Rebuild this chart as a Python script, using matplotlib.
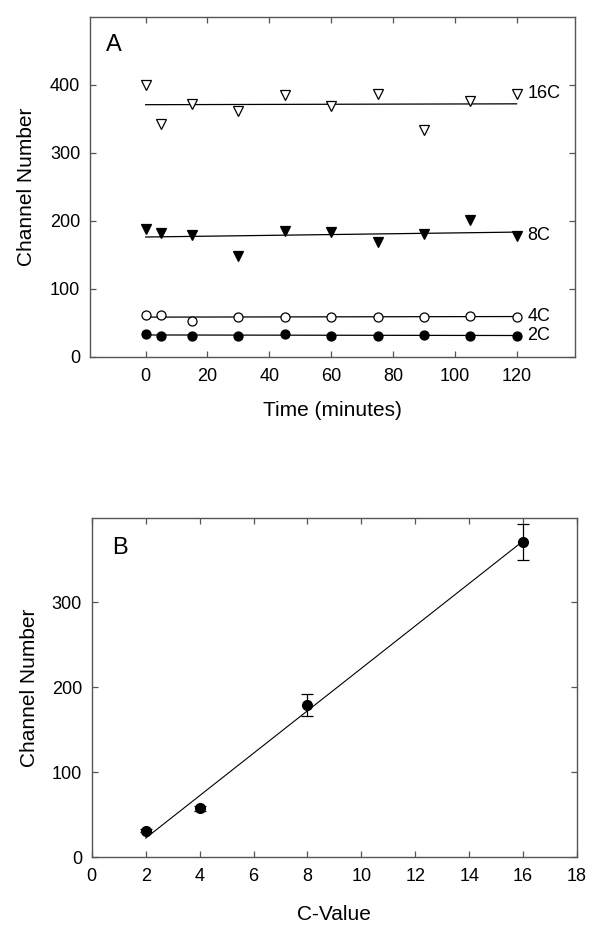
import numpy as np
import matplotlib
matplotlib.use("Agg")
import matplotlib.pyplot as plt

plt.rcParams['font.family'] = ['Liberation Sans', 'DejaVu Sans']

# Panel A : channel number over time for each ploidy class
temps = [0, 5, 15, 30, 45, 60, 75, 90, 105, 120]
c16 = [400, 342, 372, 362, 385, 369, 387, 333, 376, 387]
c8 = [188, 182, 179, 148, 185, 183, 168, 181, 201, 178]
c4 = [61, 61, 52, 58, 59, 58, 58, 59, 60, 59]
c2 = [33, 31, 31, 31, 34, 30, 31, 32, 31, 31]
noms = ["16C", "8C", "4C", "2C"]

# Panel B : mean channel number vs C-value
c_valeurs = [2, 4, 8, 16]
moyennes = [31.3, 57.6, 179.5, 371.3]
erreurs = [2, 3, 13, 21]


def reglage_axes(ax):
    for s in ax.spines.values():
        s.set_color('#555555')
        s.set_linewidth(1.0)
    ax.tick_params(direction='in', top=True, right=True, length=4, width=0.9,
                   color='#555555', labelsize=13)
    ax.tick_params(axis='x', pad=8)
    ax.tick_params(axis='y', pad=7)


fig = plt.figure(figsize=(6, 9.36), dpi=100)

# ---- A ----
ax1 = fig.add_axes([0.15, 0.619, 0.809, 0.363])
series = [c16, c8, c4, c2]
styles = [('v', 'white'), ('v', 'black'), ('o', 'white'), ('o', 'black')]
t = np.array(temps)
for vals, (m, fc), nom in zip(series, styles, noms):
    a, b = np.polyfit(t, vals, 1)
    ax1.plot([0, 120], [b, b + a * 120], color='black', lw=0.9, zorder=2)
    ax1.plot(temps, vals, linestyle='none', marker=m, markersize=6.5,
             markerfacecolor=fc, markeredgecolor='black', markeredgewidth=0.9, zorder=3)
    ax1.text(123.5, vals[-1], nom, ha='left', va='center', fontsize=13)

ax1.set_xlim(-18, 139)
ax1.set_ylim(0, 500)
ax1.set_xticks(range(0, 121, 20))
ax1.set_yticks(range(0, 401, 100))
ax1.set_xlabel("Time (minutes)", fontsize=15)
ax1.set_ylabel("Channel Number", fontsize=15)
ax1.xaxis.set_label_coords(0.5, -0.131)
ax1.yaxis.set_label_coords(-0.111, 0.5)
ax1.text(0.05, 0.917, "A", transform=ax1.transAxes, ha='center', va='center', fontsize=17)
reglage_axes(ax1)

# ---- B ----
ax2 = fig.add_axes([0.153, 0.0841, 0.8087, 0.3622])
pente, origine = np.polyfit(c_valeurs, moyennes, 1)
ax2.plot([c_valeurs[0], c_valeurs[-1]],
         [origine + pente * c_valeurs[0], origine + pente * c_valeurs[-1]],
         color='black', lw=0.8, zorder=2)
ax2.errorbar(c_valeurs, moyennes, yerr=erreurs, fmt='o', color='black',
             markersize=7, capsize=4, elinewidth=0.9, capthick=0.9, zorder=3)
ax2.set_xlim(0, 18)
ax2.set_ylim(0, 399)
ax2.set_xticks(range(0, 19, 2))
ax2.set_yticks(range(0, 301, 100))
ax2.set_xlabel("C-Value", fontsize=15)
ax2.set_ylabel("Channel Number", fontsize=15)
ax2.xaxis.set_label_coords(0.5, -0.141)
ax2.yaxis.set_label_coords(-0.109, 0.5)
ax2.text(0.058, 0.912, "B", transform=ax2.transAxes, ha='center', va='center', fontsize=17)
reglage_axes(ax2)

fig.savefig("out.png", dpi=100)
